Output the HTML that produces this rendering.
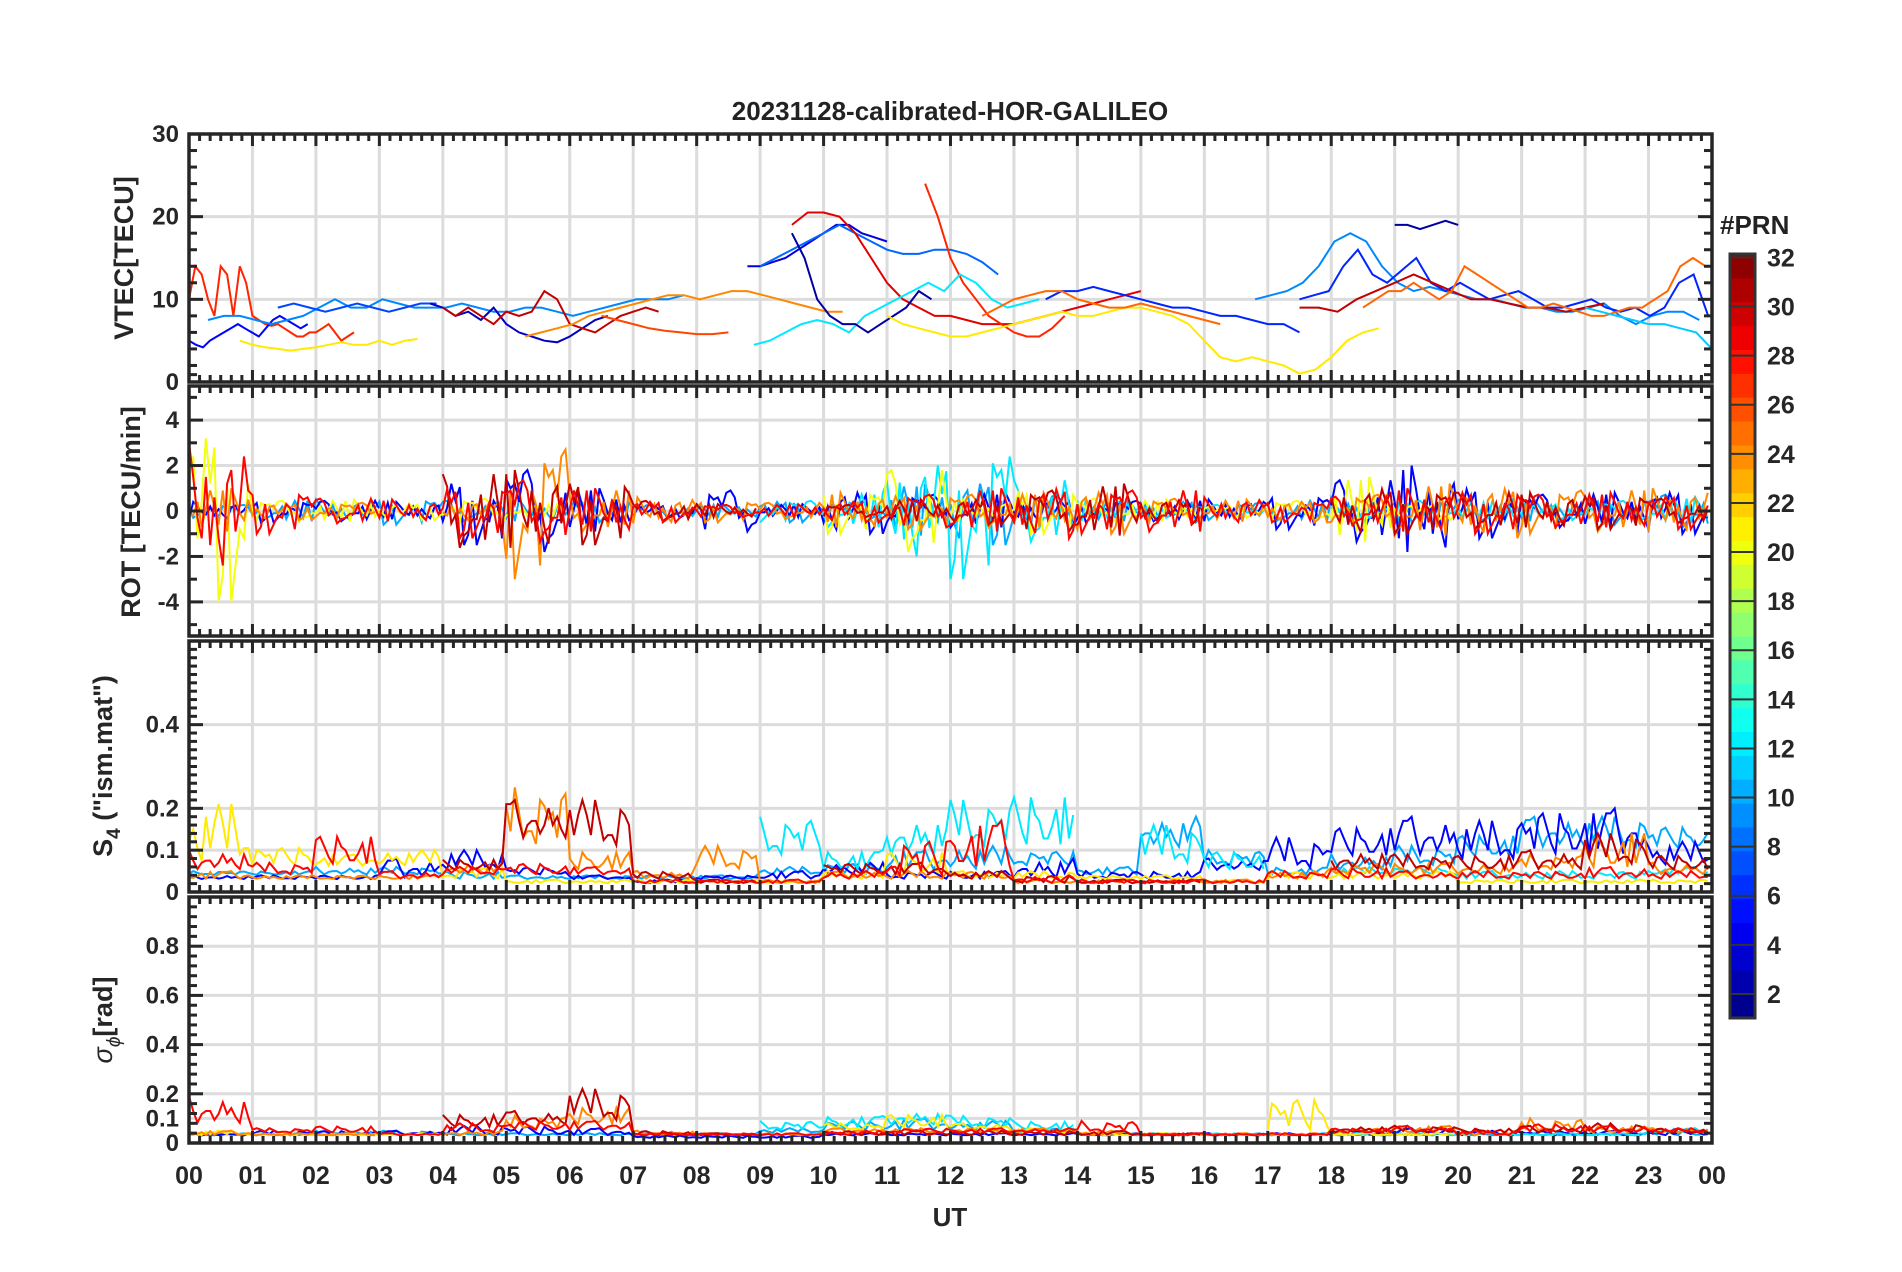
<!DOCTYPE html>
<html><head><meta charset="utf-8">
<style>
html,body{margin:0;padding:0;background:#fff;}
svg{display:block;font-family:"Liberation Sans",Arial,sans-serif;}
</style></head>
<body>
<svg id="chart" width="1902" height="1272" viewBox="0 0 1902 1272" xmlns="http://www.w3.org/2000/svg">
<rect width="1902" height="1272" fill="#fff"/>
<text x="950" y="120" text-anchor="middle" font-size="26" font-weight="bold" fill="#222">20231128-calibrated-HOR-GALILEO</text>
<g id="layer"></g>
</svg>
<script>
// ---------------- DATA ----------------
const hourLabels=["00","01","02","03","04","05","06","07","08","09","10","11","12","13","14","15","16","17","18","19","20","21","22","23","00"];
const vtecTicks=[0,10,20,30];
const rotTicks=[-4,-2,0,2,4];
const s4Ticks=[0,0.1,0.2,0.4];
const sigTicks=[0,0.1,0.2,0.4,0.6,0.8];
const cbarTicks=[2,4,6,8,10,12,14,16,18,20,22,24,26,28,30,32];

// VTEC series: PRN, start hour, step hour, values
const vtecPrn=[27,5,9,7,21,3,30,24,26,4,8,29,27,12,2,21,6,25,9,6,2,30,25,11];
const vtecStart=[0,0,0.3,1.4,0.8,3.8,4,5.3,6.5,8.8,9.0,9.5,11.6,8.9,9.5,11,13.5,12.5,16.8,17.5,19,17.5,18.5,22];
const vtecStep=[0.1,0.11,0.25,0.25,0.2,0.2,0.2,0.25,0.25,0.2,0.25,0.25,0.2,0.25,0.2,0.25,0.25,0.25,0.25,0.23,0.2,0.3,0.2,0.25];
const vtecValues=[
[10,14,13,10,8,14,13,8,14,12,8,7.5,7,6.8,7,6.5,6,5.5,5.5,6,6,6.5,7,6,5,5.5,6],
[5,4.5,4.2,5,5.5,6,6.5,7,6.5,6,5.5,6.5,7.5,8,7.5,7,6.5,7],
[7.5,8,8,7.5,7,7.5,8,9,10,9,9,10,9.5,9,9,9,9.5,9,8.5,8.5,9,9,8.5,8,8.5,9,9.5,10,10,10,10.5],
[9,9.5,9,8.5,9,9.5,9,8.5,9,9.5,9.5],
[5,4.5,4.2,4,3.8,4,4.2,4.5,4.8,4.5,4.5,5,4.5,5,5.2],
[9.5,9,8,8.5,7.5,9,7,6,5.5,5,4.8,5.5,6.5,7.5,8],
[9,8,9,8,7,8.5,8,8.5,11,10,7,6.5,6,7,8,8.5,9,8.5],
[5.5,6,6.5,7,8,8.5,9,9.5,10,10.5,10.5,10,10.5,11,11,10.5,10,9.5,9,8.5,8.5],
[8,7.5,7,6.5,6.2,6,5.8,5.8,6],
[14,14,14.5,15,16,17,18,19,19,18,17.5,17],
[14,15,16,17,18,19,18,17,16,15.5,15.5,16,16,15.5,14.5,13],
[19,20.5,20.5,20,18,15,12,10,9,8,8,7.5,7,7,7,7.5,8,8.5,9,9.5,10,10.5,11],
[24,20,15,12,10,8,7,6,5.5,5.5,6.5,8],
[4.5,5,6,7,7.5,7,6,8,9,10,11,12,11,13,12,10,9,9.5,10],
[18,15,10,8,7,7,6,7,8,9,11,10],
[8,7,6.5,6,5.5,5.5,6,6.5,7,7.5,8,8.5,8,8,8.5,9,9,8.5,8,7,5,3,2.5,3,2.5,2,1,1.5,3,5,6,6.5],
[10,11,11,11.5,11,10.5,10,9.5,9,9,8.5,8,8,7.5,7,7,6],
[8,9,10,10.5,11,11,10,9.5,9,9,9.5,9,8.5,8,7.5,7],
[10,10.5,11,12,14,17,18,17,14,12,11,11.5,11,10.5,10,10,9.5,9,9,8.5,8.5,9,9.5,8,7,8,8.5,8.5,7.5],
[10,10.5,11,14,16,13,12,13.5,15,12,11,12,11,10,10.5,11,10,9,9,9.5,10,9,8.5,9,8,9,12,13,8],
[19,19,18.5,19,19.5,19],
[9,9,8.5,10,11,12,13,12,11,10,10,9.5,9,9,8.5,9,9.5],
[9,10,11,11,12,11,10,11,14,13,12,11,10,9,9,9.5,9,8.5,8,8,8.5,9,9,10,11,14,15,14],
[9,8.5,8,7.5,7,7,6.5,6,4]
];

// typed jitter pattern shared by noisy panels
const jitter=[0.3,-0.8,0.6,-0.2,0.9,-0.5,0.1,-1,0.7,-0.3,0.4,-0.9,0.2,0.8,-0.6,0.5,-0.1,-0.7,1,-0.4,0.3,-0.2,0.6,-0.9,0.1,0.5,-0.8,0.7,-0.3,0.2,-0.6,0.9,-0.1,0.4,-1,0.3,0.8,-0.5,0.2,-0.4,0.6,-0.7,0.1,0.9,-0.2,-0.6,0.5,-0.3];

// ROT: hourly amplitude per PRN (null = no data)
const rotPrn=[10,5,12,20,24,30,28];
const rotAmp=[
[0.3,0.5,0.5,0.6,0.5,0.5,0.5,0.3,0.3,0.5,0.4,1.2,1.5,0.8,0.5,0.5,0.4,0.5,0.6,0.5,0.6,0.5,0.6,0.8,0.6],
[0.4,0.5,0.5,0.4,1.5,2,1,0.3,1,0.3,1,0.8,0.8,0.6,0.5,0.5,0.5,0.8,1.5,2,1.2,0.8,0.8,1,1],
[null,null,null,null,null,null,null,null,null,0.5,0.8,2.5,3,1.5,0.5,0.3,0.3,null,0.3,0.5,0.4,0.4,0.5,0.6,0.5],
[4,0.5,0.5,0.4,0.6,0.3,null,null,null,null,1,2,0.5,1,0.6,0.5,0.3,0.5,1.5,0.4,null,null,null,null,null],
[1,0.4,0.4,null,0.5,3,1,0.6,0.5,0.4,0.8,0.8,0.8,0.8,1,0.6,0.5,0.5,0.8,1.2,1.2,1,1,1,1],
[null,null,null,null,1.8,1.8,1.5,0.5,0.3,null,0.3,0.5,0.6,1,1.2,0.6,null,null,1.2,1,0.9,0.8,0.8,0.6,null],
[3,1,0.6,0.5,1.2,1.5,1,0.5,0.3,0.3,0.5,0.8,1,1.2,1,1,0.6,0.5,0.7,1,1,0.8,0.8,0.8,0.8]
];

// S4: hourly base and spread per PRN
const s4Prn=[10,5,12,21,24,30,28];
const s4Base=[
[0.04,0.04,0.04,0.04,0.03,0.03,0.03,0.03,0.03,0.04,0.04,0.05,0.05,0.06,0.04,0.1,0.06,0.04,0.05,0.06,0.08,0.1,0.1,0.1,0.06],
[0.03,0.03,0.03,0.03,0.05,0.04,0.03,0.02,0.03,0.03,0.04,0.03,0.03,0.03,0.03,0.03,0.05,0.05,0.08,0.08,0.07,0.08,0.08,0.06,0.08],
[null,null,null,null,null,null,null,null,null,0.08,0.05,0.08,0.1,0.1,null,0.06,0.05,null,0.04,0.04,0.03,0.03,0.03,0.04,0.04],
[0.06,0.06,0.06,0.06,0.03,0.02,0.02,0.02,0.02,0.02,0.03,0.04,0.03,0.03,0.03,0.03,0.02,0.03,0.03,0.03,0.02,0.02,0.02,0.02,0.02],
[0.03,0.03,0.03,0.03,0.04,0.1,0.05,0.03,0.05,0.02,0.03,0.03,0.03,0.02,0.02,0.02,0.02,0.03,0.04,0.04,0.04,0.05,0.05,0.04,0.05],
[null,null,null,null,0.05,0.12,0.1,0.03,0.02,null,0.04,0.04,0.03,0.02,0.02,0.02,null,null,0.05,0.05,0.05,0.05,0.06,0.05,null],
[0.05,0.04,0.06,0.03,0.04,0.04,0.04,0.02,0.02,0.02,0.03,0.03,0.05,0.02,0.02,0.02,0.02,0.03,0.03,0.03,0.03,0.03,0.03,0.03,0.03]
];
const s4Spread=[
[0.01,0.01,0.02,0.02,0.02,0.01,0.01,0.01,0.01,0.02,0.03,0.05,0.06,0.04,0.02,0.08,0.04,0.02,0.04,0.05,0.06,0.08,0.08,0.06,0.05],
[0.01,0.01,0.01,0.05,0.05,0.02,0.01,0.01,0.01,0.02,0.03,0.02,0.02,0.05,0.02,0.02,0.03,0.08,0.08,0.1,0.1,0.12,0.12,0.06,0.15],
[null,null,null,null,null,null,null,null,null,0.1,0.05,0.1,0.12,0.14,null,0.1,0.05,null,0.02,0.02,0.02,0.02,0.02,0.02,0.02],
[0.15,0.05,0.03,0.04,0.03,0.01,0.01,0.01,0.01,0.01,0.02,0.06,0.02,0.02,0.01,0.01,0.01,0.02,0.02,0.02,0.01,0.01,0.01,0.01,0.01],
[0.02,0.01,0.01,0.01,0.03,0.15,0.05,0.02,0.06,0.01,0.02,0.02,0.02,0.01,0.01,0.01,0.01,0.02,0.03,0.03,0.03,0.04,0.1,0.03,0.06],
[null,null,null,null,0.03,0.1,0.12,0.02,0.01,null,0.03,0.03,0.02,0.02,0.01,0.01,null,null,0.05,0.04,0.04,0.05,0.08,0.04,null],
[0.05,0.03,0.08,0.02,0.02,0.03,0.02,0.01,0.01,0.01,0.02,0.1,0.12,0.02,0.01,0.01,0.01,0.02,0.03,0.02,0.02,0.02,0.03,0.02,0.02]
];

// sigma-phi: hourly base and spread per PRN
const sigPrn=[10,5,12,21,24,30,28];
const sigBase=[
[0.03,0.03,0.03,0.03,0.03,0.03,0.03,0.03,0.03,0.04,0.05,0.05,0.05,0.04,0.03,0.03,0.03,0.03,0.03,0.03,0.03,0.03,0.03,0.03,0.03],
[0.03,0.03,0.03,0.03,0.03,0.03,0.03,0.02,0.02,0.02,0.03,0.03,0.03,0.03,0.03,0.03,0.03,0.03,0.03,0.03,0.03,0.03,0.03,0.03,0.03],
[null,null,null,null,null,null,null,null,null,0.05,0.06,0.07,0.06,0.05,null,0.03,0.03,null,0.03,0.03,0.03,0.03,0.03,0.04,0.04],
[0.03,0.03,0.03,0.03,null,null,null,null,null,null,0.05,0.06,0.05,0.04,0.03,0.03,null,0.04,0.03,0.03,null,null,null,null,null],
[0.03,0.03,0.03,null,0.03,0.05,0.07,0.03,0.03,0.03,0.04,0.04,0.04,0.04,0.03,0.03,0.03,0.03,0.04,0.04,0.03,0.04,0.04,0.04,0.04],
[null,null,null,null,0.06,0.07,0.08,0.03,0.03,null,0.03,0.03,0.03,0.03,0.03,0.03,null,null,0.04,0.04,0.04,0.04,0.04,0.04,null],
[0.07,0.04,0.04,0.03,0.04,0.05,0.05,0.03,0.03,0.03,0.03,0.04,0.04,0.04,0.04,0.03,0.03,0.03,0.04,0.04,0.03,0.04,0.04,0.04,0.04]
];
const sigSpread=[
[0.01,0.01,0.02,0.02,0.01,0.01,0.01,0.01,0.01,0.02,0.04,0.05,0.04,0.02,0.01,0.01,0.01,0.01,0.01,0.01,0.01,0.01,0.01,0.02,0.02],
[0.01,0.02,0.02,0.02,0.04,0.04,0.03,0.01,0.01,0.01,0.01,0.01,0.01,0.01,0.01,0.01,0.01,0.01,0.02,0.03,0.02,0.02,0.02,0.02,0.03],
[null,null,null,null,null,null,null,null,null,0.04,0.05,0.06,0.05,0.04,null,0.01,0.01,null,0.01,0.01,0.01,0.01,0.01,0.02,0.02],
[0.02,0.01,0.01,0.01,null,null,null,null,null,null,0.03,0.06,0.03,0.02,0.01,0.01,null,0.15,0.01,0.01,null,null,null,null,null],
[0.02,0.01,0.01,null,0.02,0.06,0.08,0.02,0.01,0.01,0.02,0.02,0.02,0.02,0.02,0.01,0.01,0.01,0.02,0.03,0.02,0.06,0.03,0.02,0.02],
[null,null,null,null,0.06,0.06,0.14,0.02,0.01,null,0.02,0.02,0.02,0.02,0.02,0.01,null,null,0.03,0.03,0.02,0.03,0.04,0.02,null],
[0.12,0.02,0.03,0.01,0.04,0.04,0.04,0.01,0.01,0.01,0.02,0.02,0.02,0.02,0.05,0.01,0.01,0.01,0.02,0.03,0.02,0.04,0.03,0.02,0.02]
];

// ---------------- LAYOUT ----------------
const NS="http://www.w3.org/2000/svg";
const layer=document.getElementById('layer');
const X0=189,X1=1712;
const panels=[
 {key:'vtec',top:134,bot:382,min:0,max:30,ticks:vtecTicks,minor:2,grid:[10,20],fmt:v=>String(v)},
 {key:'rot',top:386,bot:636,min:-5.5,max:5.5,ticks:rotTicks,minor:1,grid:[-4,-2,0,2,4],fmt:v=>String(v)},
 {key:'s4',top:641,bot:892,min:0,max:0.6,ticks:s4Ticks,minor:0.02,grid:[0.1,0.2,0.4],fmt:v=>v===0?'0':String(v)},
 {key:'sig',top:897,bot:1143,min:0,max:1,ticks:sigTicks,minor:0.04,grid:[0.1,0.2,0.4,0.6,0.8],fmt:v=>v===0?'0':String(v)}
];
function xs(h){return X0+(h/24)*(X1-X0);}
function ys(p,v){return p.bot-(v-p.min)/(p.max-p.min)*(p.bot-p.top);}
function jet(prn){
 const t=(prn-1)/31;
 const c=x=>Math.round(255*Math.max(0,Math.min(1,1.5-Math.abs(x))));
 return `rgb(${c(4*t-3)},${c(4*t-2)},${c(4*t-1)})`;
}
function mk(tag,attrs,parent){
 const e=document.createElementNS(NS,tag);
 for(const k in attrs)e.setAttribute(k,attrs[k]);
 (parent||layer).appendChild(e);return e;
}

// clip paths
const defs=mk('defs',{});
panels.forEach(p=>{
 const cp=mk('clipPath',{id:'clip-'+p.key},defs);
 mk('rect',{x:X0,y:p.top,width:X1-X0,height:p.bot-p.top},cp);
});

// grids
panels.forEach(p=>{
 const g=mk('g',{});
 
 
 for(let h=1;h<24;h++)mk('line',{x1:xs(h),x2:xs(h),y1:p.top,y2:p.bot,stroke:'#dcdcdc','stroke-width':3},g);
 p.grid.forEach(v=>mk('line',{x1:X0,x2:X1,y1:ys(p,v),y2:ys(p,v),stroke:'#dcdcdc','stroke-width':3},g));
});

function pathFrom(pts){
 let d='';let pen=false;
 pts.forEach(pt=>{ if(pt===null){pen=false;return;} d+=(pen?'L':'M')+pt[0].toFixed(1)+' '+pt[1].toFixed(1);pen=true;});
 return d;
}

// VTEC series
const P0=panels[0];
const gV=mk('g',{'clip-path':'url(#clip-vtec)'});


vtecValues.forEach((vals,i)=>{
 const pts=vals.map((v,k)=>[xs(vtecStart[i]+k*vtecStep[i]),ys(P0,v)]);
 const el=mk('path',{d:pathFrom(pts),fill:'none',stroke:jet(vtecPrn[i]),'stroke-width':2},gV);
 
 
});

// noisy panels
const PER_HOUR=15;
function noisyPoints(i,fn){
 const pts=[];
 for(let k=0;k<24*PER_HOUR;k++){
  const h=Math.floor(k/PER_HOUR);
  const v=fn(h,jitter[(k*7+i*11)%jitter.length]);
  pts.push(v===null?null:[xs(k/PER_HOUR),v]);
 }
 return pts;
}
const P1=panels[1];
const gR=mk('g',{'clip-path':'url(#clip-rot)'});


rotAmp.forEach((amp,i)=>{
 const pts=noisyPoints(i,(h,n)=>amp[h]===null?null:ys(P1,amp[h]*n));
 const el=mk('path',{d:pathFrom(pts),fill:'none',stroke:jet(rotPrn[i]),'stroke-width':2},gR);
 
 
});
const P2=panels[2];
const gS=mk('g',{'clip-path':'url(#clip-s4)'});


s4Base.forEach((base,i)=>{
 const pts=noisyPoints(i,(h,n)=>base[h]===null?null:ys(P2,base[h]+s4Spread[i][h]*Math.abs(n)));
 const el=mk('path',{d:pathFrom(pts),fill:'none',stroke:jet(s4Prn[i]),'stroke-width':2},gS);
 
 
});
const P3=panels[3];
const gG=mk('g',{'clip-path':'url(#clip-sig)'});


sigBase.forEach((base,i)=>{
 const pts=noisyPoints(i,(h,n)=>base[h]===null?null:ys(P3,base[h]+sigSpread[i][h]*Math.abs(n)));
 const el=mk('path',{d:pathFrom(pts),fill:'none',stroke:jet(sigPrn[i]),'stroke-width':2},gG);
 
 
});

// axes, ticks, labels
panels.forEach((p,pi)=>{
 const g=mk('g',{});
 
 
 mk('rect',{x:X0,y:p.top,width:X1-X0,height:p.bot-p.top,fill:'none',stroke:'#262626','stroke-width':3.5},g);
 for(let m=0;m<=24*6;m++){
  const x=xs(m/6);const L=(m%6===0)?12:7;
  mk('line',{x1:x,x2:x,y1:p.top,y2:p.top+L,stroke:'#262626','stroke-width':3},g);
  mk('line',{x1:x,x2:x,y1:p.bot,y2:p.bot-L,stroke:'#262626','stroke-width':3},g);
 }
 for(let v=p.min;v<=p.max+1e-9;v+=p.minor){
  const vv=Math.round(v/p.minor)*p.minor;
  if(vv<p.min-1e-9)continue;
  const y=ys(p,vv);
  const major=p.ticks.some(t=>Math.abs(t-vv)<1e-9);
  const L=major?14:8;
  mk('line',{x1:X0,x2:X0+L,y1:y,y2:y,stroke:'#262626','stroke-width':3},g);
  mk('line',{x1:X1,x2:X1-L,y1:y,y2:y,stroke:'#262626','stroke-width':3},g);
 }
 p.ticks.forEach(t=>{
  const tx=mk('text',{x:X0-10,y:ys(p,t)+8,'text-anchor':'end','font-size':24,'font-weight':'bold',fill:'#262626'},g);
  tx.textContent=p.fmt(t);
  
  
 });
});

// x labels
hourLabels.forEach((lab,i)=>{
 const t=mk('text',{x:xs(i),y:1184,'text-anchor':'middle','font-size':25,'font-weight':'bold',fill:'#262626'});
 t.textContent=lab;
 
 
});
</script>
<svg style="position:absolute;left:0;top:0" width="1902" height="1272">
<text x="950" y="1226" text-anchor="middle" font-size="26" font-weight="bold" fill="#262626" font-family="Liberation Sans, sans-serif">UT</text>
<text transform="translate(133,258) rotate(-90)" text-anchor="middle" font-size="27" font-weight="bold" fill="#262626" font-family="Liberation Sans, sans-serif">VTEC[TECU]</text>
<text transform="translate(140,512) rotate(-90)" text-anchor="middle" font-size="27" font-weight="bold" fill="#262626" font-family="Liberation Sans, sans-serif">ROT [TECU/min]</text>
<text transform="translate(112,766) rotate(-90)" text-anchor="middle" font-size="27" font-weight="bold" fill="#262626" font-family="Liberation Sans, sans-serif">S<tspan font-size="19" dy="8">4</tspan><tspan dy="-8"> ("ism.mat")</tspan></text>
<text transform="translate(112,1020) rotate(-90)" text-anchor="middle" font-size="27" font-weight="bold" fill="#262626" font-family="Liberation Sans, sans-serif"><tspan font-weight="normal" font-style="italic">σ</tspan><tspan font-size="19" dy="8" font-style="italic" font-weight="normal">ϕ</tspan><tspan dy="-8">[rad]</tspan></text>
<g id="cbar"></g>
<text x="1720" y="234" font-size="26" font-weight="bold" fill="#222" font-family="Liberation Sans, sans-serif">#PRN</text>
</svg>
<script>
(function(){
 const NS="http://www.w3.org/2000/svg";
 const g=document.getElementById('cbar');
 const top=254,bot=1018,cx=1730,cw=25;
 const vmin=1.02,vmax=32.14;
 const yv=v=>bot-(v-vmin)/(vmax-vmin)*(bot-top);
 function jet(t){const c=x=>Math.round(255*Math.max(0,Math.min(1,1.5-Math.abs(x))));return `rgb(${c(4*t-3)},${c(4*t-2)},${c(4*t-1)})`;}
 const n=32;
 for(let i=0;i<n;i++){
  const r=document.createElementNS(NS,'rect');
  const y0=bot-(i+1)*(bot-top)/n;
  r.setAttribute('x',cx);r.setAttribute('y',y0);r.setAttribute('width',cw);r.setAttribute('height',(bot-top)/n+0.5);
  r.setAttribute('fill',jet((i+0.5)/n));
  
  
  g.appendChild(r);
 }
 const fr=document.createElementNS(NS,'rect');
 fr.setAttribute('x',cx);fr.setAttribute('y',top);fr.setAttribute('width',cw);fr.setAttribute('height',bot-top);
 fr.setAttribute('fill','none');fr.setAttribute('stroke','#333');fr.setAttribute('stroke-width','3');
 g.appendChild(fr);
 cbarTicks.forEach(v=>{
  const y=yv(v);
  const l=document.createElementNS(NS,'line');
  l.setAttribute('x1',cx);l.setAttribute('x2',cx+cw);l.setAttribute('y1',y);l.setAttribute('y2',y);
  l.setAttribute('stroke','#333');l.setAttribute('stroke-width','2');
  g.appendChild(l);
  const t=document.createElementNS(NS,'text');
  t.setAttribute('x',cx+37);t.setAttribute('y',y+9);
  t.setAttribute('font-size','25');t.setAttribute('font-weight','bold');t.setAttribute('fill','#262626');
  t.setAttribute('font-family','Liberation Sans, sans-serif');
  t.textContent=String(v);
  
  
  g.appendChild(t);
 });
})();
</script>
</body></html>
